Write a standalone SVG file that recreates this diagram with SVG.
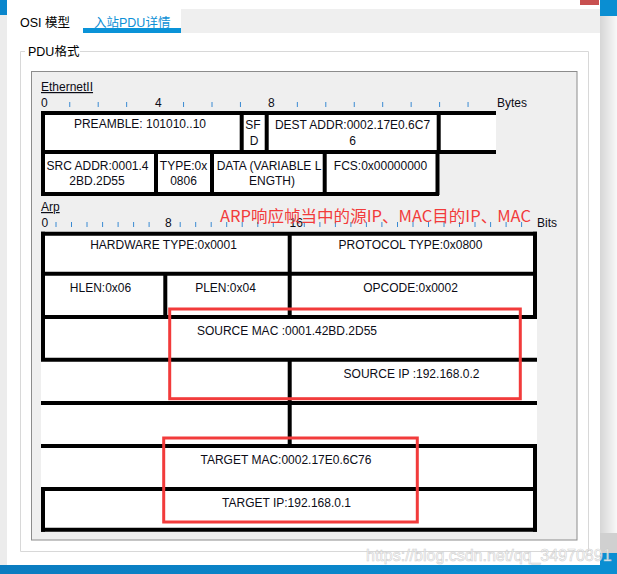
<svg xmlns="http://www.w3.org/2000/svg" width="617" height="574" viewBox="0 0 617 574">
<defs>
<linearGradient id="side" x1="0" y1="0" x2="1" y2="0">
<stop offset="0" stop-color="#d6d6d6"/><stop offset="1" stop-color="#f8f8f8"/>
</linearGradient>
<linearGradient id="bar" x1="0" y1="0" x2="1" y2="0">
<stop offset="0" stop-color="#0b7cc0"/><stop offset="1" stop-color="#0a8ed2"/>
</linearGradient>
</defs>
<style>
.t{font-family:"Liberation Sans",Arial,sans-serif;font-size:12px;fill:#0c0c16}
.c{text-anchor:middle}
.ln{stroke:#000;stroke-width:4;fill:none}
.tk{stroke:#3a8ad2;stroke-width:1}
.red{fill:none;stroke:#f23b3b;stroke-width:3}
.cell{fill:#fff}
.cjk{font-family:"Liberation Sans","Noto Sans CJK SC",sans-serif;font-size:12.5px}
</style>
<!-- window chrome -->
<rect x="0" y="0" width="617" height="574" fill="#ececec"/>
<rect x="7" y="0" width="593" height="565" fill="#fff"/>
<rect x="0" y="0" width="7" height="15" fill="#0a86cc"/>
<rect x="600" y="0" width="17" height="574" fill="url(#side)"/>
<rect x="600" y="0" width="17" height="16" fill="#0a8ed2"/>
<rect x="600" y="533" width="17" height="20" fill="#d0d0d0"/>
<rect x="600" y="553" width="17" height="21" fill="#0a8ed2"/>
<rect x="0" y="565" width="600" height="9" fill="url(#bar)"/>
<rect x="580" y="0" width="19" height="5" fill="#c85050"/>
<!-- tabs -->
<rect x="181" y="9" width="419" height="24" fill="#efefef"/>
<rect x="83" y="28" width="98" height="5" fill="#0a93d8"/>
<text class="cjk" x="20" y="27" fill="#000">OSI 模型</text>
<text class="cjk" x="94" y="27" fill="#0d90d6">入站PDU详情</text>
<!-- group box -->
<path d="M25 51.5H20.5V551.5H588.5V51.5H80" fill="none" stroke="#d8d8d8"/>
<text class="cjk" x="28" y="56" fill="#000" font-size="12">PDU格式</text>
<rect x="31.5" y="71.5" width="545.5" height="468.5" fill="#efefef" stroke="#8c8c8c"/>

<!-- Ethernet II -->
<g id="ethernet-ruler">
<text class="t" x="41" y="91" text-decoration="underline">EthernetII</text>
<text class="t" x="41" y="107">0</text>
<text class="t" x="155" y="107">4</text>
<text class="t" x="268" y="107">8</text>
<text class="t" x="497" y="107">Bytes</text>
<path class="tk" d="M69.75 102V107M98.2 102V107M126.65 102V107M183.55 102V107M212 102V107M240.45 102V107M297.35 102V107M325.8 102V107M354.25 102V107M382.7 102V107M411.15 102V107M439.6 102V107M468.05 102V107"/>
</g>
<g id="eth-preamble"><rect class="cell" x="41" y="113" width="201" height="39"/><text class="t c" x="140" y="128">PREAMBLE: 101010..10</text></g>
<g id="eth-sfd"><rect class="cell" x="241" y="113" width="26" height="39"/><text class="t c" x="253" y="129">SF</text><text class="t c" x="254" y="145">D</text></g>
<g id="eth-dest"><rect class="cell" x="266" y="113" width="173" height="39"/><text class="t c" x="352.5" y="129">DEST ADDR:0002.17E0.6C7</text><text class="t c" x="352.5" y="145">6</text></g>
<g id="eth-pad"><rect class="cell" x="438" y="113" width="58" height="39"/></g>
<g id="eth-src"><rect class="cell" x="41" y="152" width="116" height="42"/><text class="t c" x="97.5" y="170">SRC ADDR:0001.4</text><text class="t c" x="97" y="185">2BD.2D55</text></g>
<g id="eth-type"><rect class="cell" x="156" y="152" width="57" height="42"/><text class="t c" x="183.5" y="170">TYPE:0x</text><text class="t c" x="183.5" y="185">0806</text></g>
<g id="eth-data"><rect class="cell" x="212" y="152" width="113" height="42"/><text class="t c" x="269" y="170">DATA (VARIABLE L</text><text class="t c" x="272" y="185">ENGTH)</text></g>
<g id="eth-fcs"><rect class="cell" x="324" y="152" width="114" height="42"/><text class="t c" x="380.5" y="170">FCS:0x00000000</text></g>
<g id="eth-grid">
<path class="ln" d="M41 113H496M41 152H496M43 111V196M241.7 113V152M266.7 113V152M438.7 113V152M156 152V194M212 152V194M324.7 152V194"/>
<path class="ln" stroke-width="3" d="M41 194H439M437.5 152V195"/>
</g>

<!-- ARP -->
<g id="arp-ruler">
<text class="t" x="41" y="211" text-decoration="underline">Arp</text>
<text class="t" x="41.5" y="227">0</text>
<text class="t" x="165" y="227">8</text>
<text class="t" x="289.5" y="227">16</text>
<text class="t" x="537" y="227">Bits</text>
<path class="tk" d="M56 222V227M71.5 222V227M87 222V227M102.6 222V227M118.1 222V227M133.6 222V227M149.1 222V227M180.2 222V227M195.7 222V227M211.2 222V227M226.7 222V227M242.2 222V227M257.8 222V227M273.3 222V227M304.3 222V227M319.9 222V227M335.4 222V227M350.9 222V227M366.4 222V227M381.9 222V227M397.5 222V227M413 222V227M428.5 222V227M444 222V227M459.5 222V227M475 222V227M490.6 222V227M506.1 222V227M521.6 222V227"/>
</g>
<rect class="cell" x="41" y="233.7" width="496" height="296"/>
<g id="arp-hwtype"><text class="t c" x="163.5" y="249">HARDWARE TYPE:0x0001</text></g>
<g id="arp-ptype"><text class="t c" x="410.5" y="249">PROTOCOL TYPE:0x0800</text></g>
<g id="arp-hlen"><text class="t c" x="100.5" y="291.5">HLEN:0x06</text></g>
<g id="arp-plen"><text class="t c" x="225.5" y="291.5">PLEN:0x04</text></g>
<g id="arp-opcode"><text class="t c" x="410.5" y="291.5">OPCODE:0x0002</text></g>
<g id="arp-smac"><text class="t c" x="287" y="335">SOURCE MAC :0001.42BD.2D55</text></g>
<g id="arp-sip"><text class="t c" x="411.5" y="378">SOURCE IP :192.168.0.2</text></g>
<g id="arp-tmac"><text class="t c" x="286" y="464">TARGET MAC:0002.17E0.6C76</text></g>
<g id="arp-tip"><text class="t c" x="286.5" y="506.5">TARGET IP:192.168.0.1</text></g>
<g id="arp-grid">
<path class="ln" d="M41 233.7H537M41 273.7H537M41 317H537M41 359.7H537M41 403H537M41 446H537M41 489H537M41 529.7H537"/>
<path class="ln" d="M43 231.7V359.7M43 489V531.7M535 231.7V317M535 446V531.7M289.7 233.7V317M289.7 359.7V446M165.3 273.7V317"/>
</g>

<!-- annotations -->
<g id="highlights">
<rect class="red" x="169.7" y="309" width="350.6" height="89.7"/>
<rect class="red" x="163.7" y="438" width="253.6" height="84"/>
<text x="220" y="222" font-family="'Noto Sans CJK SC',sans-serif" font-size="16" fill="#f23b3b" textLength="311" lengthAdjust="spacingAndGlyphs">ARP响应帧当中的源IP、MAC目的IP、MAC</text>
</g>
<text x="366" y="561" font-family="'Liberation Sans',Arial,sans-serif" font-size="16" fill="#ffffff" stroke="#c8c8c8" stroke-width="0.6" opacity="0.85">https://blog.csdn.net/qq_34970891</text>
</svg>
